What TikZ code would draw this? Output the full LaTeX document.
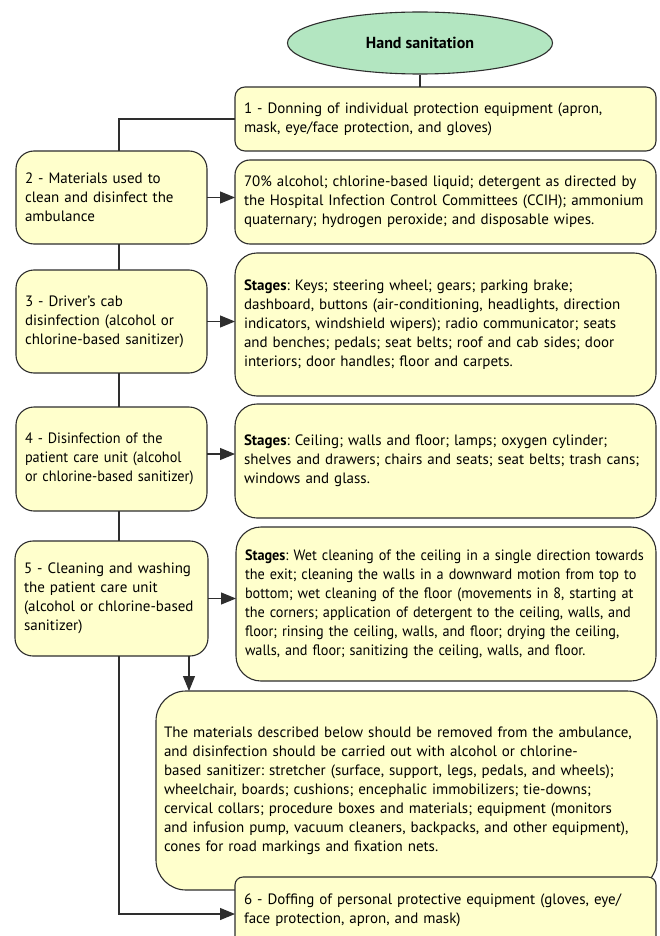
\documentclass[tikz,border=0pt]{standalone}
\usepackage{fontspec}
\setmainfont{PT Sans}
\newfontfamily\condfont{PT Sans}[FakeStretch=0.95]
\usetikzlibrary{arrows.meta,shapes.geometric}
\definecolor{boxfill}{HTML}{FFFFCC}
\definecolor{ellfill}{HTML}{B3E6C1}
\definecolor{linec}{HTML}{2E2E2E}
\frenchspacing
\hyphenpenalty=10000
\exhyphenpenalty=10000
\tikzset{
  txt/.style={font=\fontsize{15pt}{19pt}\selectfont},
  box/.style={txt, draw=linec, fill=boxfill, line width=1.1pt, align=left,
    anchor=north west, inner xsep=9pt, inner ysep=0pt, outer sep=0pt},
  conn/.style={draw=linec, line width=1.1pt},
  arr/.style={conn, -{Triangle[length=15pt,width=12pt]}},
}
\begin{document}
\begin{tikzpicture}[x=1pt,y=1pt]
\useasboundingbox (0,0) rectangle (659,-936);
\clip (0,0) rectangle (659,-936);
\fill[white] (0,0) rectangle (659,-936);
\coordinate (spine) at (119,0);
\coordinate (dn) at (189,0);
% ellipse
\node[ellipse, draw=linec, fill=ellfill, line width=1.1pt, minimum width=265pt, minimum height=62pt, inner sep=0pt, font=\fontsize{16pt}{19pt}\selectfont\bfseries] (e) at (420,-43) {Hand sanitation};
% right column
\node[box, rounded corners=10pt, text width=403pt, minimum height=64pt] (b1) at (235,-87)
 {1 - Donning of individual protection equipment (apron,\\ mask, eye/face protection, and gloves)};
\node[box, rounded corners=15pt, text width=403pt, minimum height=84pt] (b2R) at (235,-160)
 {70\% alcohol; chlorine-based liquid; detergent as directed by\\ the Hospital Infection Control Committees (CCIH); ammonium\\ quaternary; hydrogen peroxide; and disposable wipes.};
\node[box, rounded corners=22pt, text width=403pt, minimum height=143pt] (b3R) at (235,-253)
 {\textbf{Stages}: Keys; steering wheel; gears; parking brake;\\ dashboard, buttons (air-conditioning, headlights, direction\\ indicators, windshield wipers); radio communicator; seats\\ and benches; pedals; seat belts; roof and cab sides; door\\ interiors; door handles; floor and carpets.};
\node[box, rounded corners=22pt, text width=403pt, minimum height=114pt] (b4R) at (235,-404)
 {\textbf{Stages}: Ceiling; walls and floor; lamps; oxygen cylinder;\\ shelves and drawers; chairs and seats; seat belts; trash cans;\\ windows and glass.};
\node[box, rounded corners=25pt, text width=402pt, minimum height=154pt] (b5R) at (236,-527)
 {\condfont\textbf{Stages}: Wet cleaning of the ceiling in a single direction towards\\ the exit; cleaning the walls in a downward motion from top to\\ bottom; wet cleaning of the floor (movements in 8, starting at\\ the corners; application of detergent to the ceiling, walls, and\\ floor; rinsing the ceiling, walls, and floor; drying the ceiling,\\ walls, and floor; sanitizing the ceiling, walls, and floor.};
% left column
\node[box, rounded corners=18pt, text width=173pt, minimum height=93pt] (b2L) at (16,-151)
 {2 - Materials used to\\ clean and disinfect the\\ ambulance};
\node[box, rounded corners=18pt, text width=173pt, minimum height=103pt] (b3L) at (16,-270)
 {3 - Driver's cab\\ disinfection (alcohol or\\ chlorine-based sanitizer)};
\node[box, rounded corners=18pt, text width=173pt, minimum height=104pt] (b4L) at (16,-407)
 {\condfont 4 - Disinfection of the\\ patient care unit (alcohol\\ or chlorine-based sanitizer)};
\node[box, rounded corners=18pt, text width=175pt, minimum height=115pt] (b5L) at (15,-541)
 {5 - Cleaning and washing\\ the patient care unit\\ (alcohol or chlorine-based\\ sanitizer)};
% big box and last box
\node[box, rounded corners=30pt, inner xsep=8pt, text width=485pt, minimum height=199pt] (big) at (156,-691)
 {The materials described below should be removed from the ambulance,\\ and disinfection should be carried out with alcohol or chlorine-\\ based sanitizer: stretcher (surface, support, legs, pedals, and wheels);\\ wheelchair, boards; cushions; encephalic immobilizers; tie-downs;\\ cervical collars; procedure boxes and materials; equipment (monitors\\ and infusion pump, vacuum cleaners, backpacks, and other equipment),\\ cones for road markings and fixation nets.};
\node[box, rounded corners=8pt, text width=403pt, minimum height=67pt] (b6) at (235,-877)
 {6 - Doffing of personal protective equipment (gloves, eye/\\ face protection, apron, and mask)};
% connectors
\draw[conn] (e.south) -- (b1.north -| e.south);
\draw[conn] (b1.west) -| (spine |- b2L.north);
\draw[conn] (spine |- b2L.south) -- (spine |- b3L.north);
\draw[conn] (spine |- b3L.south) -- (spine |- b4L.north);
\draw[conn] (spine |- b4L.south) -- (spine |- b5L.north);
\draw[arr] (b2L.east) -- (b2L.east -| b2R.west);
\draw[arr] (b3L.east) -- (b3L.east -| b3R.west);
\draw[arr] ([yshift=5pt]b4L.east) -- ([yshift=5pt]b4L.east -| b4R.west);
\draw[arr] (b5L.east) -- (b5L.east -| b5R.west);
\draw[arr] (dn |- b5L.south) -- (dn |- big.north);
\draw[arr] (spine |- b5L.south) |- ([yshift=-3.5pt]b6.west);
\end{tikzpicture}
\end{document}
